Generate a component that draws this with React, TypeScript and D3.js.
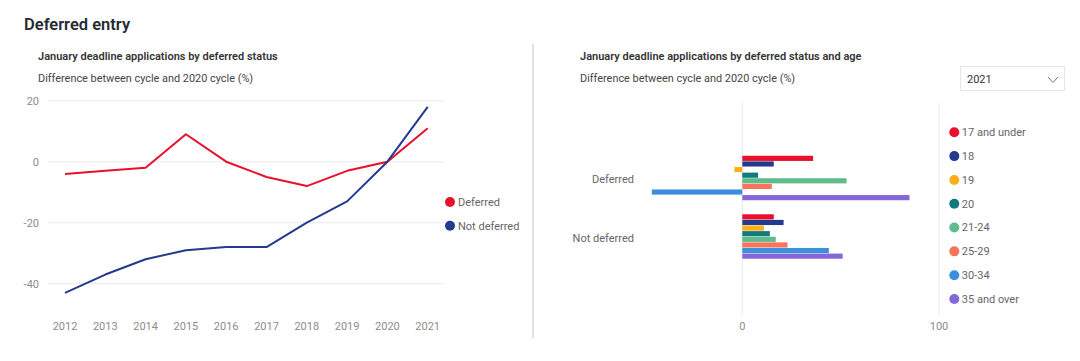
import * as d3 from "d3";
import React from "react";

// left chart: yearly difference vs 2020
const years = [2012, 2013, 2014, 2015, 2016, 2017, 2018, 2019, 2020, 2021];
const deferred = [-4, -3, -2, 9, 0, -5, -8, -3, 0, 11];
const notDeferred = [-43, -37, -32, -29, -28, -28, -20, -13, 0, 18];
const leftTicks = [-40, -20, 0, 20];

// right chart: 2021 by age
const statuses = ["Deferred", "Not deferred"];
const ages = ["17 and under", "18", "19", "20", "21-24", "25-29", "30-34", "35 and over"];
const deferredByAge = [36, 16, -4, 8, 53, 15, -46, 85];
const notDeferredByAge = [16, 21, 11, 14, 17, 23, 44, 51];
const rightTicks = [0, 100];

const RED = "#e8102d";
const NAVY = "#243a8e";
const ageColors = ["#e8102d", "#243a8e", "#fbb01a", "#127a7c", "#5fba8c", "#f8745c", "#3b8fdb", "#8467d8"];

const FONT = "'Segoe UI', Roboto, sans-serif";

const App = () => {
    const x = d3.scalePoint<number>().domain(years).range([65, 427.7]);
    const y = d3.scaleLinear().domain([-40, 20]).range([283.7, 100.7]);

    const line = d3
        .line<number>()
        .x((d, i) => x(years[i]) as number)
        .y(d => y(d));

    const series = [
        {name: "Deferred", values: deferred, color: RED},
        {name: "Not deferred", values: notDeferred, color: NAVY}
    ];

    const bx = d3.scaleLinear().domain([0, 100]).range([742.3, 939]);
    const by = d3
        .scaleBand()
        .domain(statuses)
        .range([148.75, 265.75])
        .paddingInner(0.24)
        .paddingOuter(0.12);
    const inner = d3.scaleBand().domain(ages).range([0, by.bandwidth()]).paddingInner(0.08);
    const byStatus = [deferredByAge, notDeferredByAge];

    const legendY = d3.scalePoint().domain(ages).range([132.3, 299]);

    return (
        <svg width={1080} height={361} style={{position: "absolute", left: 0, top: 0, background: "#fff"}}
             fontFamily={FONT}>
            <text x={24} y={30} fontSize={16.5} fontWeight={600} fill="#252a33">Deferred entry</text>

            {/* left panel */}
            <text x={38} y={60} fontSize={11} fontWeight={600} fill="#333">
                January deadline applications by deferred status
            </text>
            <text x={38} y={81.5} fontSize={10.9} fill="#444">Difference between cycle and 2020 cycle (%)</text>

            <g>
                {leftTicks.map(t => (
                    <g key={t}>
                        <line x1={48} x2={444} y1={y(t)} y2={y(t)} stroke="#eeeeee" strokeWidth={1.2}/>
                        <text x={39} y={y(t)} dy="0.35em" textAnchor="end" fontSize={11} fill="#8c8c8c">{t}</text>
                    </g>
                ))}
                {years.map(yr => (
                    <text key={yr} x={x(yr)} y={330} textAnchor="middle" fontSize={11} fill="#8c8c8c">{yr}</text>
                ))}
                {series.map(s => (
                    <path key={s.name} d={line(s.values) ?? ""} fill="none" stroke={s.color} strokeWidth={2}
                          strokeLinejoin="round"/>
                ))}
                {series.map((s, i) => (
                    <g key={s.name} transform={`translate(450,${202 + i * 23.7})`}>
                        <circle r={5} fill={s.color}/>
                        <text x={8} dy="0.35em" fontSize={11} fill="#666">{s.name}</text>
                    </g>
                ))}
            </g>

            <line x1={533} x2={533} y1={44} y2={338} stroke="#d9d9d9" strokeWidth={1.5}/>

            {/* right panel */}
            <text x={580} y={60} fontSize={11} fontWeight={600} fill="#333">
                January deadline applications by deferred status and age
            </text>
            <text x={580} y={81.5} fontSize={10.9} fill="#444">Difference between cycle and 2020 cycle (%)</text>

            <g>
                <rect x={960.5} y={66.5} width={104} height={24} fill="#fff" stroke="#e6e6e6"/>
                <text x={967} y={82.5} fontSize={11} fill="#333">2021</text>
                <polyline points="1048,77 1053,82.5 1058,77" fill="none" stroke="#777" strokeWidth={1}/>
            </g>

            <g>
                {rightTicks.map(t => (
                    <g key={t}>
                        <line x1={bx(t)} x2={bx(t)} y1={102} y2={316} stroke="#eeeeee" strokeWidth={1.2}/>
                        <text x={bx(t)} y={330} textAnchor="middle" fontSize={11} fill="#8c8c8c">{t}</text>
                    </g>
                ))}
                {statuses.map((st, si) => (
                    <g key={st} transform={`translate(0,${by(st)})`}>
                        <text x={634} y={by.bandwidth() / 2 + 1.5} dy="0.35em" textAnchor="end" fontSize={11}
                              fill="#666">
                            {st}
                        </text>
                        {ages.map((a, ai) => {
                            const v = byStatus[si][ai];
                            return (
                                <rect key={a}
                                      x={Math.min(bx(0), bx(v))}
                                      y={inner(a)}
                                      width={Math.abs(bx(v) - bx(0))}
                                      height={inner.bandwidth()}
                                      fill={ageColors[ai]}/>
                            );
                        })}
                    </g>
                ))}
                {ages.map((a, ai) => (
                    <g key={a} transform={`translate(954.3,${legendY(a)})`}>
                        <circle r={5} fill={ageColors[ai]}/>
                        <text x={7.5} dy="0.35em" fontSize={11} fill="#666">{a}</text>
                    </g>
                ))}
            </g>
        </svg>
    );
};

export default App;
